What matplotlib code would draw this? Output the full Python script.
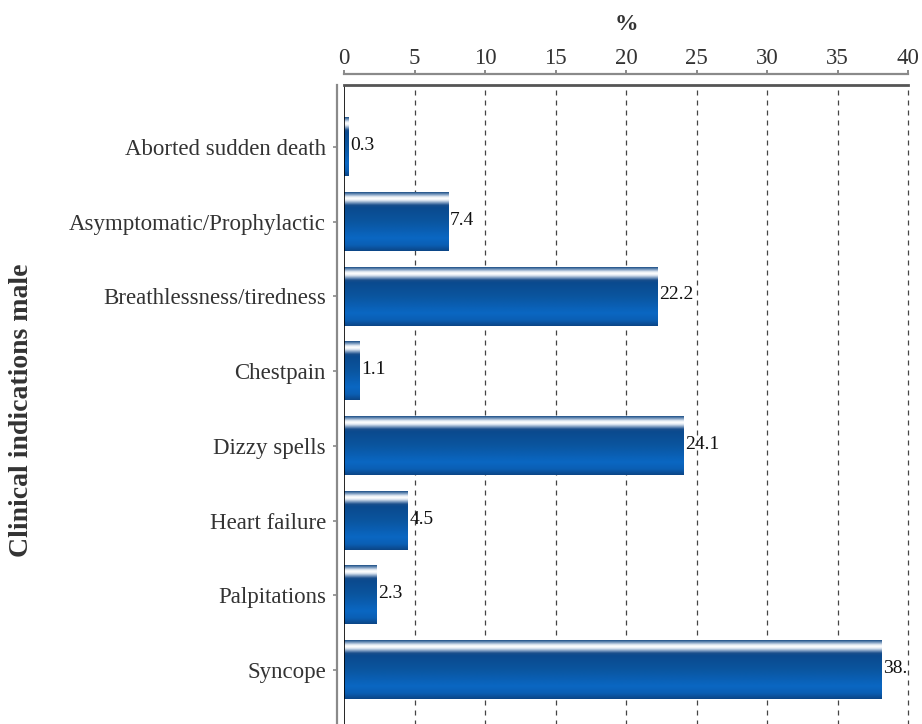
import numpy as np
import matplotlib
matplotlib.use("Agg")
import matplotlib.pyplot as plt
from matplotlib.colors import LinearSegmentedColormap

categories = ["Aborted sudden death", "Asymptomatic/Prophylactic",
              "Breathlessness/tiredness", "Chestpain", "Dizzy spells",
              "Heart failure", "Palpitations", "Syncope"]
values = [0.3, 7.4, 22.2, 1.1, 24.1, 4.5, 2.3, 38.1]
xticks = [0, 5, 10, 15, 20, 25, 30, 35, 40]

plt.rcParams["font.family"] = ["Liberation Serif", "DejaVu Serif"]

W, H = 922, 724
fig = plt.figure(figsize=(W / 100, H / 100), dpi=100)

# axes box in pixels: left 344, right 908, top 85, runs a little past the bottom
left, right, top, bottom = 344, 908, 85, 732
ax = fig.add_axes([left / W, (H - bottom) / H, (right - left) / W, (bottom - top) / H])

# glossy blue gradient used for every bar (top to bottom)
stops = [(0.00, "#1c4f86"), (0.04, "#7c9cc0"), (0.08, "#e8eef5"), (0.11, "#ffffff"),
         (0.14, "#dfe7f1"), (0.18, "#7b9ac0"), (0.22, "#1a4f8c"), (0.26, "#0b4a8e"),
         (0.50, "#0a559f"), (0.78, "#0a67c3"), (0.90, "#0b5fb4"), (1.00, "#0b4585")]
cmap = LinearSegmentedColormap.from_list("gloss", stops)
grad = np.linspace(0, 1, 256).reshape(-1, 1)

bar_h = 0.78
pos = np.arange(len(categories))
for y, v in zip(pos, values):
    ax.imshow(grad, cmap=cmap, aspect="auto", interpolation="bilinear",
              extent=(0, v, y + bar_h / 2, y - bar_h / 2), zorder=3)
    ax.text(v + 0.12, y - 0.02, f"{v:g}", va="center", ha="left", fontsize=14,
            color="#111111", zorder=4, clip_on=True)

pad = 0.83
ax.set_xlim(0, 40)
ax.set_ylim(len(categories) - 1 + pad, -pad)

# dashed vertical gridlines
for t in xticks[1:]:
    ax.axvline(t, color="#444444", lw=0.9, ls=(0, (4, 4)), zorder=1,
               clip_on=(t != xticks[-1]))

# frame: solid left edge and top edge of the plotting box
ax.axvline(0, color="black", lw=1.2, zorder=5)
ax.axhline(-pad, color="#555555", lw=2.0, zorder=5, clip_on=False)

for s in ["right", "bottom"]:
    ax.spines[s].set_visible(False)
ax.spines["top"].set_position(("outward", 8))
ax.spines["top"].set_color("#8a8a8a")
ax.spines["top"].set_linewidth(1.6)
ax.spines["left"].set_position(("outward", 5))
ax.spines["left"].set_color("#8a8a8a")
ax.spines["left"].set_linewidth(1.6)

ax.xaxis.set_ticks_position("top")
ax.xaxis.set_label_position("top")
ax.set_xticks(xticks)
ax.set_xticklabels([str(t) for t in xticks], fontsize=16.5, color="#333333")
ax.tick_params(axis="x", length=3, width=1.4, color="#8a8a8a", pad=0.5)

ax.set_yticks(pos)
ax.set_yticklabels(categories, fontsize=16.5, color="#333333")
ax.tick_params(axis="y", length=3, width=1.2, color="#8a8a8a", pad=5)

ax.set_xlabel("%", fontsize=17, fontweight="bold", color="#333333", labelpad=13)
fig.text(22 / W, 1 - 410 / H, "Clinical indications male", rotation=90,
         ha="center", va="center", fontsize=20, fontweight="bold", color="#333333")

fig.savefig("out.png", dpi=100)
